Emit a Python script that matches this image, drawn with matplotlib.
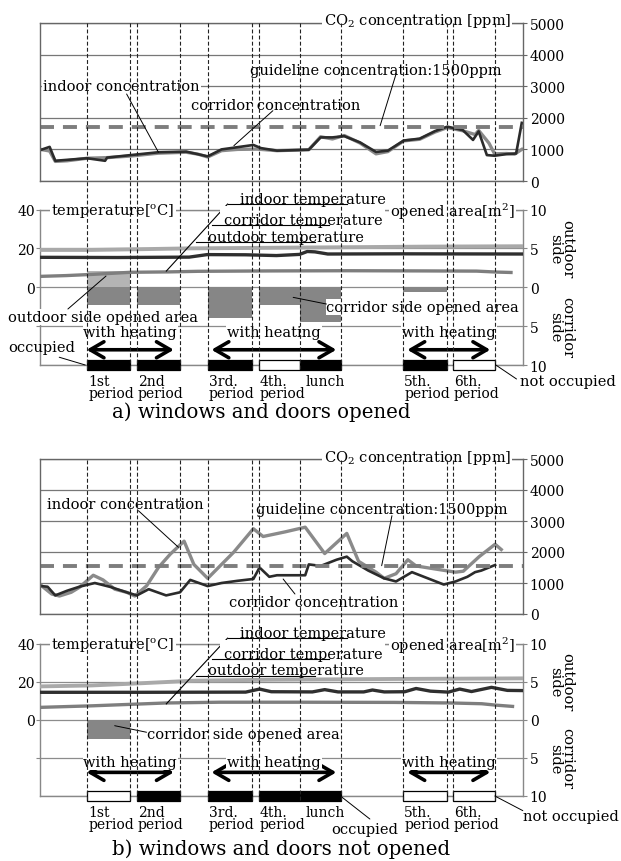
#!/usr/bin/env python3
"""
Classroom CO2 concentration, temperature and opened area over one school day.
a) windows and doors opened, b) windows and doors not opened.
Vertical dashed lines = period boundaries, bars at the bottom = occupied / not occupied.
"""
import numpy as np
import matplotlib; matplotlib.use('Agg')
import matplotlib.pyplot as plt
import matplotlib.transforms as mtransforms
from matplotlib.lines import Line2D
from matplotlib.patches import Rectangle

plt.rcParams['font.family'] = ['DejaVu Serif']
plt.rcParams['mathtext.fontset'] = 'dejavuserif'

def hm(s):
    h, m = s.split(':')
    return int(h) + int(m) / 60.0

# ---------------- timetable (same on both days) ----------------
period_labels = ['1st\nperiod', '2nd\nperiod', '3rd.\nperiod', '4th.\nperiod', 'lunch', '5th.\nperiod', '6th.\nperiod']
period_start = [hm(s) for s in ['8:55', '9:53', '11:16', '12:15', '13:04', '15:04', '16:02']]
period_end   = [hm(s) for s in ['9:45', '10:43', '12:07', '13:04', '13:51', '15:55', '16:51']]
heat_start = [hm(s) for s in ['8:54', '11:20', '15:09']]
heat_end   = [hm(s) for s in ['10:36', '13:46', '16:46']]
t_min, t_max = 8.0, 17.4

# ---------------- a) windows and doors opened ----------------
a_occupied = [1, 1, 1, 0, 1, 1, 0]
a_out_area = [2.1, 0, 0, 0, 0, 0, 0]            # m2, outdoor side
a_cor_area = [2.3, 2.3, 4.0, 2.3, 4.5, 0.6, 0]   # m2, corridor side
a_guide = 1700

a_in_t = [8.00, 8.18, 8.29, 8.52, 8.91, 9.30, 9.76, 10.30, 10.84, 11.07, 11.26, 11.53, 11.84, 12.22,
          12.61, 13.23, 13.46, 13.69, 13.92, 14.23, 14.54, 14.77, 15.08, 15.39, 15.69, 15.93, 16.23,
          16.47, 16.54, 16.74, 16.85, 17.08, 17.24, 17.38]
a_in_ppm = [1000, 950, 620, 640, 720, 740, 790, 880, 910, 850, 760, 960, 1000, 1010,
            960, 990, 1400, 1330, 1440, 1200, 860, 930, 1270, 1320, 1550, 1690, 1590,
            1470, 1600, 1200, 860, 870, 850, 1000]
a_cor_t = [8.00, 8.18, 8.29, 8.91, 9.26, 9.30, 9.76, 10.30, 10.84, 11.26, 11.53, 11.84, 12.15, 12.30,
           12.61, 13.23, 13.46, 13.69, 13.92, 14.23, 14.54, 14.77, 15.08, 15.39, 15.69, 15.93, 16.23,
           16.43, 16.54, 16.70, 16.85, 17.08, 17.27, 17.38]
a_cor_ppm = [980, 1080, 640, 720, 640, 740, 820, 910, 930, 780, 1000, 1070, 1140, 1040,
             960, 990, 1380, 1380, 1420, 1220, 920, 960, 1280, 1340, 1580, 1720, 1610,
             1300, 1570, 820, 800, 850, 870, 1840]

a_tin_t = [8.0, 9.0, 10.0, 10.9, 12.5, 14.0, 15.5, 17.4]
a_tin = [19.2, 19.2, 19.6, 20.0, 20.3, 20.6, 20.9, 21.1]
a_tcor_t = [8.0, 9.5, 10.9, 11.25, 12.0, 12.6, 13.05, 13.2, 13.35, 13.6, 15.0, 17.4]
a_tcor = [15.4, 15.3, 15.5, 16.8, 16.7, 16.3, 16.9, 18.4, 18.2, 17.1, 17.2, 17.1]
a_tout_t = [8.0, 8.5, 9.0, 9.76, 10.5, 11.07, 12.5, 14.0, 15.5, 16.5, 16.9, 17.17]
a_tout = [5.6, 6.0, 6.6, 7.7, 7.9, 8.2, 8.4, 8.5, 8.4, 8.3, 7.8, 7.6]

# ---------------- b) windows and doors not opened ----------------
b_occupied = [0, 1, 1, 1, 1, 0, 0]
b_out_area = [0, 0, 0, 0, 0, 0, 0]
b_cor_area = [2.5, 0, 0, 0, 0, 0, 0]
b_guide = 1550

b_in_t = [8.02, 8.22, 8.37, 8.60, 8.76, 9.03, 9.22, 9.45, 9.68, 9.84, 10.07, 10.30, 10.53, 10.80,
          10.99, 11.26, 11.53, 11.77, 12.15, 12.34, 12.77, 13.16, 13.54, 13.97, 14.20, 14.54,
          14.70, 14.93, 15.16, 15.32, 15.70, 16.09, 16.24, 16.55, 16.86, 16.98]
b_in_ppm = [914, 645, 580, 700, 860, 1250, 1100, 800, 700, 580, 910, 1500, 1930, 2350,
            1600, 1150, 1600, 2000, 2750, 2500, 2650, 2800, 1950, 2600, 1700, 1350,
            1150, 1300, 1750, 1550, 1450, 1350, 1380, 1850, 2250, 2080]
b_cor_t = [8.02, 8.14, 8.29, 8.52, 8.76, 9.06, 9.37, 9.68, 9.88, 10.11, 10.45, 10.72, 10.92, 11.26,
           11.53, 11.84, 12.15, 12.27, 12.46, 12.61, 13.16, 13.23, 13.46, 13.77, 13.97, 14.08,
           14.39, 14.70, 14.93, 15.24, 15.55, 15.86, 16.09, 16.32, 16.47, 16.59, 16.86]
b_cor_ppm = [900, 880, 600, 750, 880, 1000, 870, 700, 600, 800, 600, 700, 1100, 900,
             1000, 1070, 1130, 1500, 1200, 1250, 1250, 1600, 1550, 1750, 1850, 1700,
             1400, 1150, 1050, 1350, 1150, 950, 1050, 1200, 1350, 1400, 1580]

b_tin_t = [8.0, 9.0, 10.0, 11.0, 12.5, 14.9, 17.4]
b_tin = [17.5, 18.0, 19.2, 20.5, 21.0, 21.4, 21.7]
b_tcor_t = [8.0, 10.0, 12.0, 12.27, 12.5, 13.3, 13.54, 13.8, 14.3, 14.47, 14.7, 15.1, 15.32,
            15.6, 15.95, 16.17, 16.4, 16.79, 17.1, 17.4]
b_tcor = [14.4, 14.4, 14.5, 16.1, 14.7, 14.6, 15.8, 14.6, 14.6, 15.6, 14.6, 14.7, 16.4,
          15.0, 14.5, 16.1, 14.8, 17.0, 15.4, 15.3]
b_tout_t = [8.0, 9.0, 10.45, 11.5, 13.0, 14.9, 16.0, 16.6, 16.86, 17.2]
b_tout = [6.5, 7.3, 8.8, 9.2, 9.2, 9.1, 8.8, 8.4, 7.7, 7.0]

# ---------------- layout ----------------
W, H = 621, 862
fig = plt.figure(figsize=(W/100, H/100), dpi=100)

def px_axes(l, t, r, b):
    return fig.add_axes([l/W, 1 - b/H, (r - l)/W, (b - t)/H])

GRID = '#8c8c8c'
FS = 10.5

def co2_panel(ax, t_in, v_in, t_cor, v_cor, guide):
    ax.set_xlim(t_min, t_max); ax.set_ylim(0, 5000)
    ax.set_xticks([])
    ax.set_yticks(range(0, 5001, 1000))
    ax.yaxis.tick_right()
    ax.tick_params(axis='y', direction='out', length=3, color='#666', labelsize=10, pad=2)
    ax.grid(axis='y', color='#777', lw=0.9)
    ax.set_axisbelow(True)
    for s in ax.spines.values():
        s.set_color('#666'); s.set_linewidth(1.0)
    ax.plot(t_cor, v_cor, color='#2b2b2b', lw=1.9, zorder=2.2)
    ax.plot(t_in, v_in, color='#8a8a8a', lw=2.4, zorder=2.1)
    ax.axhline(guide, color='#7d7d7d', lw=2.8, dashes=(3.6, 2.3), zorder=2.3)
    ax.text(0.9755, 1.016, 'CO$_2$ concentration [ppm]', transform=ax.transAxes, ha='right',
            va='center', fontsize=FS, bbox=dict(fc='white', ec='none', pad=1.0))

def temp_panel(ax, tin_t, tin, tcor_t, tcor, tout_t, tout, out_area, cor_area, occ):
    # ax: opened area [m2] (right), tw: temperature [C] (left) drawn on top
    tw = ax.twinx()
    ax.set_xlim(t_min, t_max); ax.set_ylim(-10, 10)
    ax.set_xticks([])
    ax.set_yticks([-10, -5, 0, 5, 10])
    ax.set_yticklabels(['10', '5', '0', '5', '10'])
    ax.yaxis.tick_right()
    ax.tick_params(axis='y', direction='out', length=3, color='#888', labelsize=10, pad=2)
    ax.grid(axis='y', color=GRID, lw=0.9)
    ax.set_axisbelow(True)
    for s in ax.spines.values():
        s.set_color('#888'); s.set_linewidth(1.0)
    widths = np.array(period_end) - np.array(period_start)
    ax.bar(period_start, out_area, width=widths, align='edge', color='#b4b4b4', lw=0, zorder=2)
    ax.bar(period_start, -np.array(cor_area), width=widths, align='edge', color='#868686', lw=0, zorder=2)
    ax.bar(period_start, 1.2, width=widths, bottom=-10.6, align='edge',
           color=['black' if o else 'white' for o in occ], edgecolor='black', lw=0.9,
           zorder=3, clip_on=False)
    side = mtransforms.blended_transform_factory(ax.transAxes, ax.transData)
    ax.text(1.079, 5, 'outdoor\nside', transform=side, rotation=-90, ha='center', va='center',
            linespacing=0.85, fontsize=FS)
    ax.text(1.079, -5, 'corridor\nside', transform=side, rotation=-90, ha='center', va='center',
            linespacing=0.85, fontsize=FS)

    tw.set_xlim(t_min, t_max); tw.set_ylim(-40, 40)
    for s in tw.spines.values():
        s.set_visible(False)
    tw.yaxis.tick_left()
    tw.set_yticks([-20, 0, 20, 40]); tw.set_yticklabels(['', '0', '20', '40'])
    tw.tick_params(axis='y', direction='out', length=3, color='#888', labelsize=10, pad=1)
    tw.plot(tout_t, tout, color='#7e7e7e', lw=2.4)
    tw.plot(tcor_t, tcor, color='#2f2f2f', lw=2.4)
    tw.plot(tin_t, tin, color='#a9a9a9', lw=2.8)

    # labels on the top border
    wb = dict(fc='white', ec='none', pad=0.8)
    tw.add_patch(Rectangle((0.372, 0.975), 0.342, 0.05, transform=tw.transAxes, fc='white',
                           ec='none', clip_on=False, zorder=2.6))
    tw.text(0.023, 0.993, 'temperature[$^{\\rm o}$C]', transform=tw.transAxes, ha='left',
            va='center', fontsize=FS, bbox=wb)
    tw.text(0.984, 0.993, 'opened area[m$^2$]', transform=tw.transAxes, ha='right',
            va='center', fontsize=FS, bbox=wb)
    # temperature legend with branching leader
    lk = dict(color='black', lw=0.8, transform=tw.transAxes, clip_on=False)
    tw.plot([0.388, 0.261], [1.035, 0.604], **lk)
    for x0, x1, y, lab in [(0.388, 0.635, 1.035, 'indoor temperature'),
                           (0.356, 0.598, 0.900, 'corridor temperature'),
                           (0.323, 0.569, 0.789, 'outdoor temperature')]:
        tw.plot([x0, x1], [y, y], **lk)
        tw.text(x0 + 0.025, y + 0.008, lab, transform=tw.transAxes, ha='left', va='baseline',
                fontsize=FS)
    return tw

def lead(ax, xy, xytext, coords):
    ax.annotate('', xy=xy, xytext=xytext, xycoords=coords,
                arrowprops=dict(arrowstyle='-', lw=0.7, color='black', shrinkA=0, shrinkB=0))

def timetable(tw, fy_text, fy_arrow, fy_lab):
    xt = tw.get_xaxis_transform()
    wb = dict(fc='white', ec='none', pad=0.6)
    for hs, he in zip(heat_start, heat_end):
        tw.annotate('', xy=(he, fy_arrow), xytext=(hs, fy_arrow), xycoords=xt,
                    arrowprops=dict(arrowstyle='<->,head_length=0.55,head_width=0.32', lw=2.6,
                                    color='black', mutation_scale=18, shrinkA=0, shrinkB=0))
        tw.text((hs + he) / 2, fy_text, 'with heating', transform=xt, ha='center', va='center',
                fontsize=FS, bbox=wb)
    for s, lab in zip(period_start, period_labels):
        off = 0.1 if lab == 'lunch' else 0.02
        tw.text(s + off, fy_lab, lab, transform=xt, ha='left', va='top', fontsize=10,
                linespacing=0.82)

# ---------------- a) ----------------
XL, XR = 40.4, 522.8
ax_a = px_axes(XL, 24, XR, 182)
co2_panel(ax_a, a_in_t, a_in_ppm, a_cor_t, a_cor_ppm, a_guide)
wb = dict(fc='white', ec='none', pad=0.6)
ax_a.text(9.58, 3000, 'indoor concentration', ha='center', va='center', fontsize=FS, bbox=wb)
lead(ax_a, (10.30, 908), (9.68, 2753), 'data')
ax_a.text(12.59, 2405, 'corridor concentration', ha='center', va='center', fontsize=FS, bbox=wb)
lead(ax_a, (11.77, 1117), (12.53, 2225), 'data')
ax_a.text(14.54, 3522, 'guideline concentration:1500ppm', ha='center', va='center', fontsize=FS)
lead(ax_a, (14.62, 1750), (14.93, 3386), 'data')

tp_a = px_axes(XL, 210.5, XR, 366)
tw_a = temp_panel(tp_a, a_tin_t, a_tin, a_tcor_t, a_tcor, a_tout_t, a_tout, a_out_area, a_cor_area, a_occupied)
timetable(tw_a, 0.210, 0.098, -0.058)
tw_a.text(-0.067, 0.307, 'outdoor side opened area', transform=tw_a.transAxes, ha='left', va='center',
          fontsize=FS, bbox=wb)
lead(tw_a, (0.136, 0.572), (0.057, 0.360), 'axes fraction')
tw_a.text(0.593, 0.371, 'corridor side opened area', transform=tw_a.transAxes, ha='left', va='center',
          fontsize=FS, bbox=wb)
lead(tw_a, (0.524, 0.435), (0.593, 0.392), 'axes fraction')
tw_a.text(-0.066, 0.115, 'occupied', transform=tw_a.transAxes, ha='left', va='center', fontsize=FS)
lead(tw_a, (0.093, 0.0), (0.039, 0.05), 'axes fraction')
tw_a.text(0.994, -0.101, 'not occupied', transform=tw_a.transAxes, ha='left', va='center', fontsize=FS)
lead(tw_a, (0.944, 0.0), (0.987, -0.090), 'axes fraction')
fig.text(261.5/W, 1 - 412/H, 'a) windows and doors opened', ha='center', va='center', fontsize=14.2)

# ---------------- b) ----------------
ax_b = px_axes(XL, 460, XR, 615)
co2_panel(ax_b, b_in_t, b_in_ppm, b_cor_t, b_cor_ppm, b_guide)
ax_b.text(9.66, 3548, 'indoor concentration', ha='center', va='center', fontsize=FS)
lead(ax_b, (10.69, 2152), (9.91, 3332), 'data')
ax_b.text(14.65, 3387, 'guideline concentration:1500ppm', ha='center', va='center', fontsize=FS)
lead(ax_b, (14.65, 1558), (14.85, 3171), 'data')
ax_b.text(13.33, 397, 'corridor concentration', ha='center', va='center', fontsize=FS, bbox=wb)
lead(ax_b, (12.73, 1129), (12.96, 645), 'data')

tp_b = px_axes(XL, 644.5, XR, 797)
tw_b = temp_panel(tp_b, b_tin_t, b_tin, b_tcor_t, b_tcor, b_tout_t, b_tout, b_out_area, b_cor_area, b_occupied)
timetable(tw_b, 0.221, 0.155, -0.059)
tw_b.text(0.22, 0.407, 'corridor side opened area', transform=tw_b.transAxes, ha='left', va='center',
          fontsize=FS, bbox=wb)
lead(tw_b, (0.154, 0.461), (0.22, 0.418), 'axes fraction')
tw_b.text(0.602, -0.216, 'occupied', transform=tw_b.transAxes, ha='left', va='center', fontsize=FS)
lead(tw_b, (0.622, 0.0), (0.683, -0.151), 'axes fraction')
tw_b.text(1.0, -0.129, 'not occupied', transform=tw_b.transAxes, ha='left', va='center', fontsize=FS)
lead(tw_b, (0.942, 0.0), (1.0, -0.096), 'axes fraction')
fig.text(281/W, 1 - 849/H, 'b) windows and doors not opened', ha='center', va='center', fontsize=14.2)

# ---------------- period boundaries through both panels ----------------
bounds = sorted(set(period_start + period_end))
for ax_top, ax_bot in [(ax_a, tp_a), (ax_b, tp_b)]:
    y1 = ax_top.get_position().y1
    y0 = ax_bot.get_position().y0 - 4/H
    tr = mtransforms.blended_transform_factory(ax_top.transData, fig.transFigure)
    for t in bounds:
        fig.add_artist(Line2D([t, t], [y0, y1], transform=tr, color='#222', lw=0.8,
                              dashes=(3.5, 2.0), zorder=4))

fig.savefig('out.png', dpi=100, facecolor='white')
